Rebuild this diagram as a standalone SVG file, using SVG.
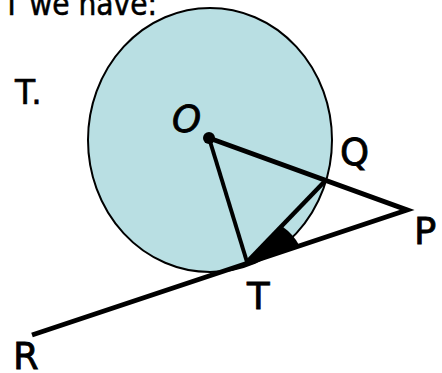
<svg xmlns="http://www.w3.org/2000/svg" width="442" height="373" viewBox="0 0 442 373">
  <style>
    .txt { font-family: "DejaVu Sans", "Liberation Sans", sans-serif; fill: #000; stroke: #000; stroke-width: 0.6px; }
    .lbl { font-family: "DejaVu Sans", "Liberation Sans", sans-serif; font-size: 37px; fill: #000; stroke: #000; stroke-width: 0.8px; }
    .seg { stroke: #000; fill: none; }
  </style>
  <rect width="442" height="373" fill="#ffffff"/>
  <g id="text">
    <text class="txt" x="3" y="15" font-size="32" textLength="154" lengthAdjust="spacingAndGlyphs">T we have:</text>
    <text class="txt" x="15" y="104" font-size="33">T.</text>
  </g>
  <g id="circle">
    <ellipse cx="210" cy="140" rx="122" ry="132" fill="#B9DFE3" stroke="#000" stroke-width="2"/>
  </g>
  <g id="connectors">
    <line class="seg" x1="209" y1="138" x2="247" y2="262" stroke-width="4"/>
    <line class="seg" x1="247" y1="262" x2="326" y2="180" stroke-width="4.5"/>
    <path class="seg" d="M209,138 L407,210 L32,335" stroke-width="5" stroke-linejoin="miter"/>
    <path id="angle" d="M247,262 L283,227 A52,52 0 0 1 299,245 Z" fill="#000"/>
  </g>
  <g id="node-O">
    <circle cx="209" cy="138" r="6" fill="#000"/>
    <text class="lbl" x="172" y="132" font-style="italic">O</text>
  </g>
  <g id="node-Q">
    <text class="lbl" x="340" y="165">Q</text>
  </g>
  <g id="node-P">
    <text class="lbl" x="414" y="244">P</text>
  </g>
  <g id="node-T">
    <text class="lbl" x="247" y="309">T</text>
  </g>
  <g id="node-R">
    <text class="lbl" x="13" y="369">R</text>
  </g>
</svg>
